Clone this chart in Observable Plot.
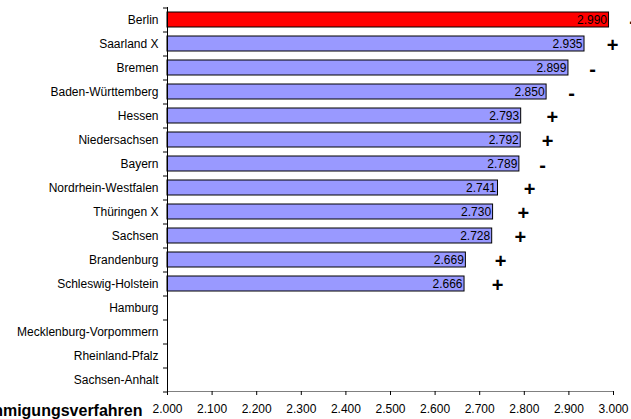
<!DOCTYPE html>
<html>
<head>
<meta charset="utf-8">
<script src="https://cdn.jsdelivr.net/npm/d3@7"></script>
<script src="https://cdn.jsdelivr.net/npm/@observablehq/plot@0.6"></script>
<style>
  body { margin: 0; background: #fff; overflow: hidden; }
</style>
</head>
<body>
<div id="chart"></div>
<script>
// Bundesländer, sorted by value; the last four have no value
const states = ["Berlin", "Saarland X", "Bremen", "Baden-Württemberg", "Hessen", "Niedersachsen", "Bayern",
  "Nordrhein-Westfalen", "Thüringen X", "Sachsen", "Brandenburg", "Schleswig-Holstein",
  "Hamburg", "Mecklenburg-Vorpommern", "Rheinland-Pfalz", "Sachsen-Anhalt"];
const values = [2990, 2935, 2899, 2850, 2793, 2792, 2789, 2741, 2730, 2728, 2669, 2666, null, null, null, null];
// Trend markers next to each bar and where they sit on the value axis
const trendSigns = ["-", "+", "-", "-", "+", "+", "-", "+", "+", "+", "+", "+", null, null, null, null];
const trendAt = [3043, 2998, 2953, 2906, 2863, 2852, 2841, 2812, 2798, 2791, 2747, 2740, null, null, null, null];
const xTicks = [2000, 2100, 2200, 2300, 2400, 2500, 2600, 2700, 2800, 2900, 3000];
const highlight = "Berlin";
const axisTitle = "Genehmigungsverfahren";

const de = d3.formatLocale({decimal: ",", thousands: ".", grouping: [3], currency: ["", " €"]});
const fmt = de.format(",d");

const rows = states.map((s, i) => ({state: s, value: values[i], sign: trendSigns[i], at: trendAt[i]}))
  .filter(d => d.value != null);

const chart = Plot.plot({
  width: 631,
  height: 419,
  marginLeft: 167,
  marginRight: 18,
  marginTop: 7,
  marginBottom: 28,
  style: {fontFamily: "Arial, 'Liberation Sans', sans-serif", fontSize: "12px", background: "#fff", overflow: "visible"},
  x: {domain: [2000, 3000]},
  y: {domain: states, paddingInner: 0.375, paddingOuter: 0.1875},
  marks: [
    Plot.barX(rows, {
      x1: 2000, x2: "value", y: "state",
      fill: d => d.state === highlight ? "#ff0000" : "#9999ff",
      stroke: "#000", strokeWidth: 1
    }),
    Plot.text(rows, {x: "value", y: "state", text: d => fmt(d.value), textAnchor: "end", dx: -2, fill: "#000", fontSize: 12}),
    Plot.text(rows, {x: "at", y: "state", text: "sign", fontWeight: "bold", fontSize: 20, dy: 2, fill: "#000"}),
    // category boundary ticks on the value axis
    Plot.ruleY(states, {y: d => d, x1: 2000, x2: 2000, insetLeft: -4, dy: -12, stroke: "#000"}),
    Plot.ruleY(states.slice(-1), {y: d => d, x1: 2000, x2: 2000, insetLeft: -4, dy: 12, stroke: "#000"}),
    Plot.frame({anchor: "bottom", stroke: "#808080"}),
    Plot.ruleX([2000], {stroke: "#000"}),
    Plot.axisY({tickSize: 0, tickPadding: 9, label: null, fontSize: 12}),
    Plot.axisX({ticks: xTicks, tickFormat: fmt, tickSize: 4, tickPadding: 9, label: null, fontSize: 12, stroke: "#000"}),
    Plot.text([axisTitle], {frameAnchor: "bottom-left", textAnchor: "end", lineAnchor: "middle", dx: -25, dy: 19, fontWeight: "bold", fontSize: 16, fill: "#000"})
  ]
});
document.getElementById("chart").appendChild(chart);
</script>
</body>
</html>
